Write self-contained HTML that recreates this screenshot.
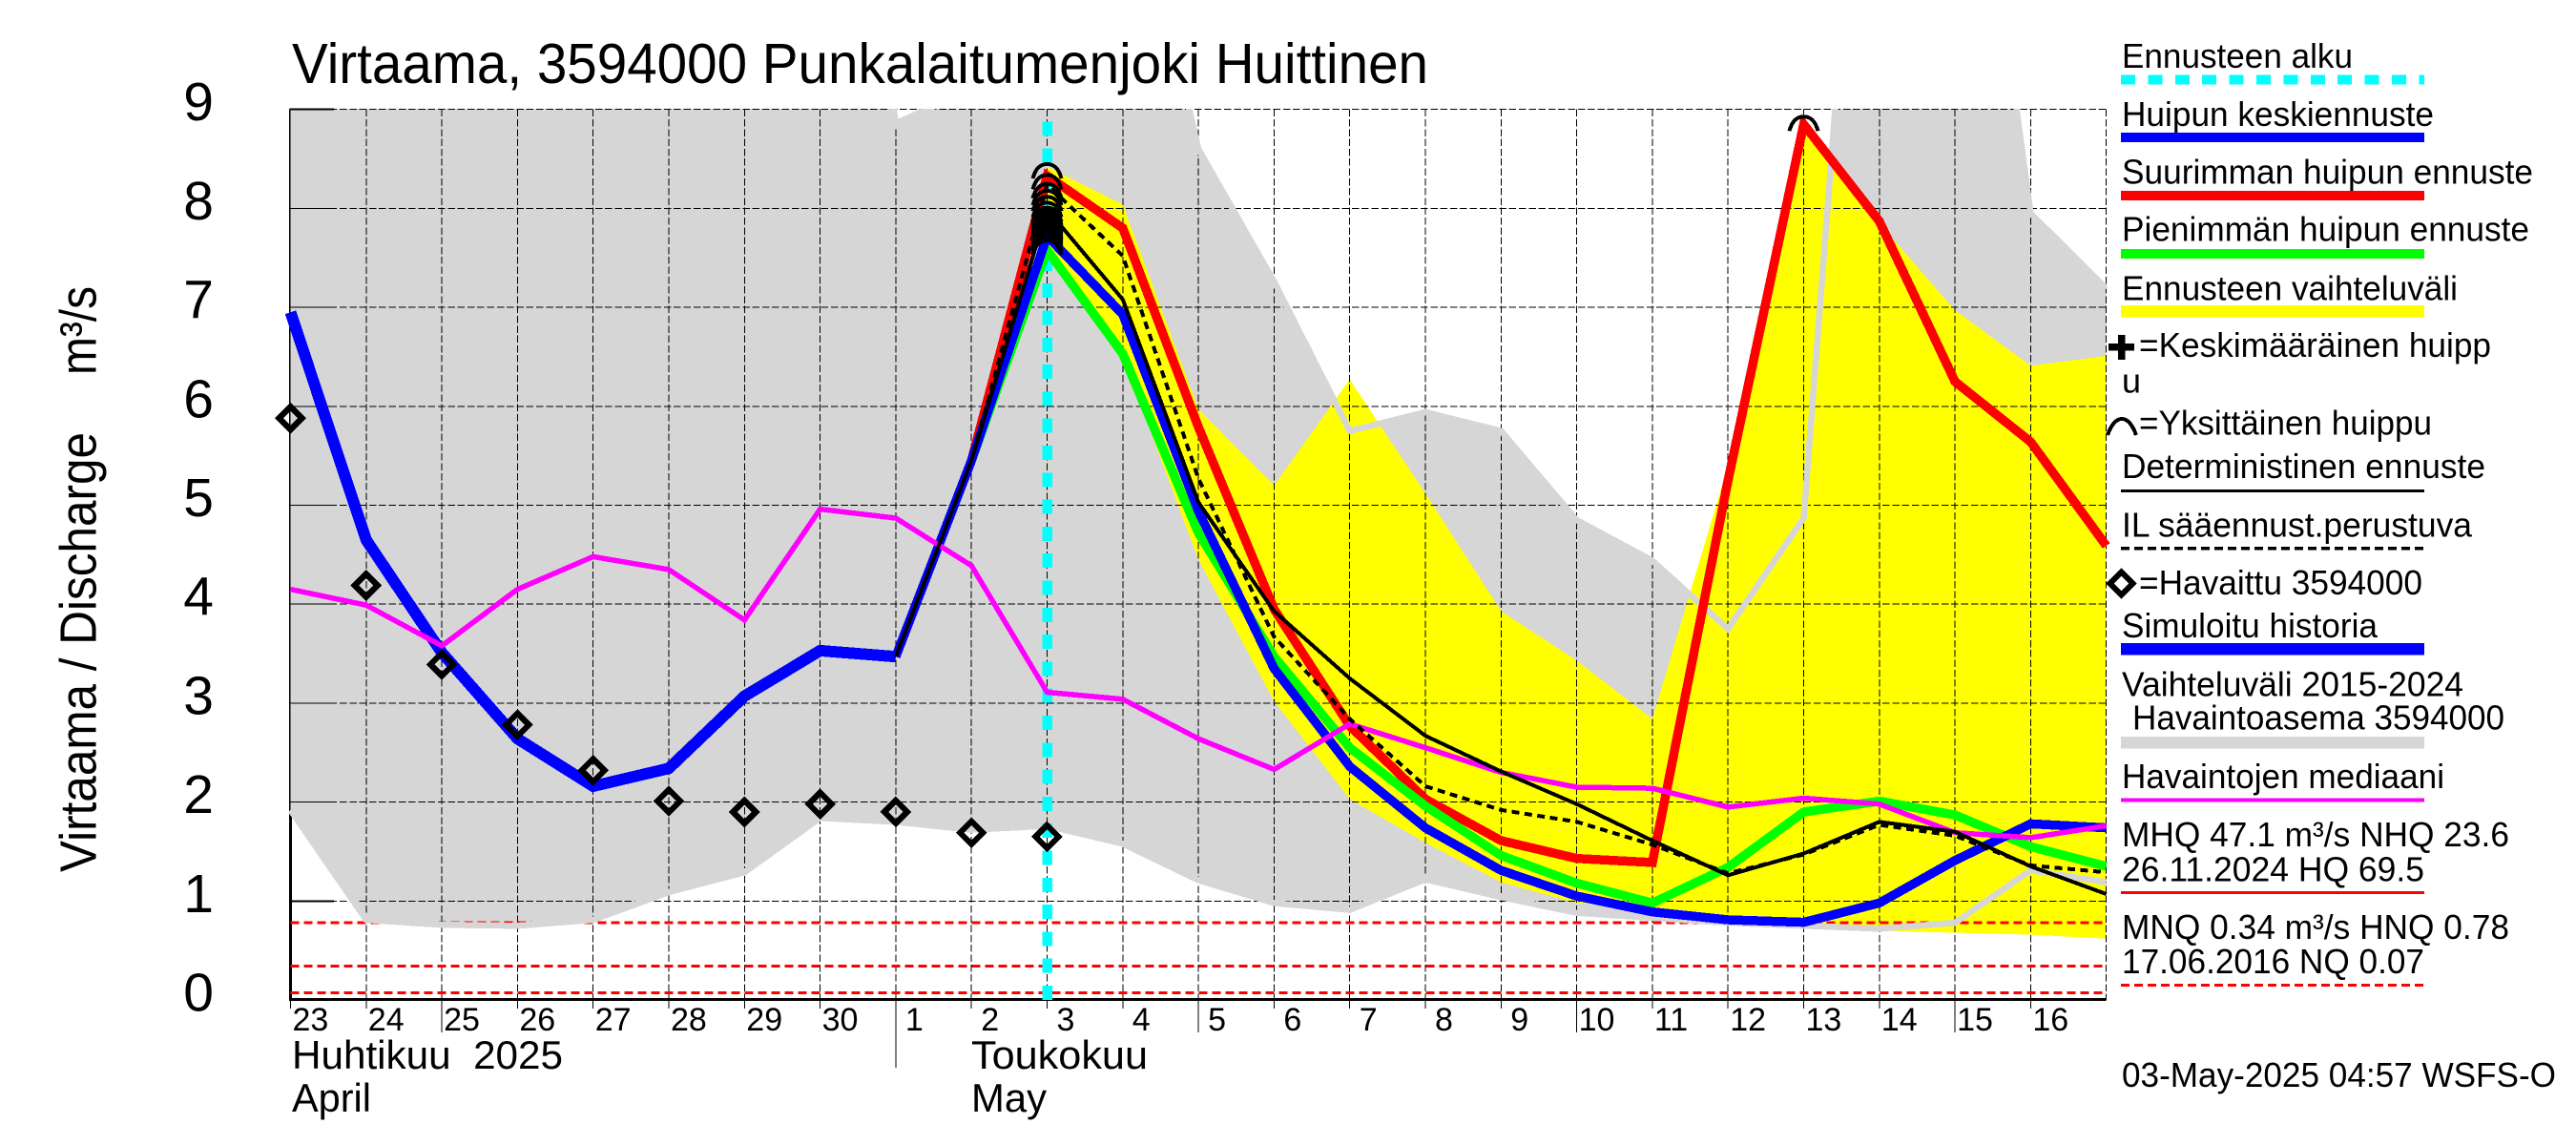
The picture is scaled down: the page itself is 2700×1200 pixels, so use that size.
<!DOCTYPE html>
<html lang="fi">
<head>
<meta charset="utf-8">
<title>Virtaama, 3594000 Punkalaitumenjoki Huittinen</title>
<style>
html,body{margin:0;padding:0;background:#fff;}
svg{display:block;shape-rendering:crispEdges;}
text{font-family:"Liberation Sans",sans-serif;fill:#000;white-space:pre;}
.lg{font-size:36px;}
</style>
</head>
<body>
<svg id="chart" xmlns="http://www.w3.org/2000/svg" width="2700" height="1200" viewBox="0 0 2700 1200">
  <defs>
    <clipPath id="plot-clip"><rect x="303" y="114" width="1905.5" height="934"/></clipPath>
  </defs>
  <rect x="0" y="0" width="2700" height="1200" fill="#fff"/>
  <g id="axis-layer"></g>
  <g id="area-layer" clip-path="url(#plot-clip)"></g>
  <g id="grid-layer"></g>
  <g id="ref-layer"></g>
  <g id="outline-layer" clip-path="url(#plot-clip)"></g>
  <g id="line-layer"></g>
  <g id="marker-layer"></g>
  <g id="label-layer"></g>

  <text x="306" y="87" font-size="59" textLength="1191" lengthAdjust="spacingAndGlyphs">Virtaama, 3594000 Punkalaitumenjoki Huittinen</text>
  <text transform="translate(100.5 914) rotate(-90)" font-size="54" textLength="461" lengthAdjust="spacingAndGlyphs">Virtaama / Discharge</text>
  <text transform="translate(100.5 393) rotate(-90)" font-size="54" textLength="93" lengthAdjust="spacingAndGlyphs">m³/s</text>
  <text x="306" y="1120" font-size="42" textLength="284" lengthAdjust="spacingAndGlyphs">Huhtikuu  2025</text>
  <text x="306" y="1165" font-size="42" textLength="83" lengthAdjust="spacingAndGlyphs">April</text>
  <text x="1018" y="1120" font-size="42" textLength="185" lengthAdjust="spacingAndGlyphs">Toukokuu</text>
  <text x="1018" y="1165" font-size="42" textLength="79" lengthAdjust="spacingAndGlyphs">May</text>

  <g>
    <text class="lg" x="2224" y="71" textLength="242" lengthAdjust="spacingAndGlyphs">Ennusteen alku</text>
    <line x1="2223" y1="83.5" x2="2541" y2="83.5" stroke="#00ffff" stroke-width="10" stroke-dasharray="15 13.4"/>
    <text class="lg" x="2224" y="132" textLength="327" lengthAdjust="spacingAndGlyphs">Huipun keskiennuste</text>
    <rect x="2223" y="139" width="318" height="10" fill="#0000ff"/>
    <text class="lg" x="2224" y="192.5" textLength="431" lengthAdjust="spacingAndGlyphs">Suurimman huipun ennuste</text>
    <rect x="2223" y="200" width="318" height="10" fill="#ff0000"/>
    <text class="lg" x="2224" y="252.5" textLength="427" lengthAdjust="spacingAndGlyphs">Pienimmän huipun ennuste</text>
    <rect x="2223" y="261" width="318" height="10" fill="#00ff00"/>
    <text class="lg" x="2224" y="314.5" textLength="352" lengthAdjust="spacingAndGlyphs">Ennusteen vaihteluväli</text>
    <rect x="2223" y="320" width="318" height="12.5" fill="#ffff00"/>
    <rect x="2210" y="360" width="27" height="7.5" fill="#000"/>
    <rect x="2220" y="351" width="7.5" height="26" fill="#000"/>
    <text class="lg" x="2242" y="374" textLength="369" lengthAdjust="spacingAndGlyphs">=Keskimääräinen huipp</text>
    <text class="lg" x="2224" y="411.5">u</text>
    <path d="M2209 456 C2213 445 2218 439 2224 439 C2230 439 2235 445 2239 456" fill="none" stroke="#000" stroke-width="4"/>
    <text class="lg" x="2242" y="455.5" textLength="307" lengthAdjust="spacingAndGlyphs">=Yksittäinen huippu</text>
    <text class="lg" x="2224" y="501" textLength="381" lengthAdjust="spacingAndGlyphs">Deterministinen ennuste</text>
    <rect x="2223" y="513" width="318" height="3" fill="#000"/>
    <text class="lg" x="2224" y="562.5" textLength="367" lengthAdjust="spacingAndGlyphs">IL sääennust.perustuva</text>
    <line x1="2223" y1="574.5" x2="2541" y2="574.5" stroke="#000" stroke-width="3.5" stroke-dasharray="9 5"/>
    <polygon points="2223.5,599.5 2235.5,611.5 2223.5,623.5 2211.5,611.5" fill="none" stroke="#000" stroke-width="6.2"/>
    <text class="lg" x="2242" y="623" textLength="297" lengthAdjust="spacingAndGlyphs">=Havaittu 3594000</text>
    <text class="lg" x="2224" y="668" textLength="268" lengthAdjust="spacingAndGlyphs">Simuloitu historia</text>
    <rect x="2223" y="674" width="318" height="12.5" fill="#0000ff"/>
    <text class="lg" x="2224" y="729.5" textLength="358" lengthAdjust="spacingAndGlyphs">Vaihteluväli 2015-2024</text>
    <text class="lg" x="2235" y="764.5" textLength="390" lengthAdjust="spacingAndGlyphs">Havaintoasema 3594000</text>
    <rect x="2223" y="772" width="318" height="12.5" fill="#d6d6d6"/>
    <text class="lg" x="2224" y="826" textLength="338" lengthAdjust="spacingAndGlyphs">Havaintojen mediaani</text>
    <rect x="2223" y="836.5" width="318" height="4" fill="#ff00ff"/>
    <text class="lg" x="2224" y="887" textLength="406" lengthAdjust="spacingAndGlyphs">MHQ 47.1 m³/s NHQ 23.6</text>
    <text class="lg" x="2224" y="923.5" textLength="317" lengthAdjust="spacingAndGlyphs">26.11.2024 HQ 69.5</text>
    <rect x="2223" y="934" width="318" height="3" fill="#ff0000"/>
    <text class="lg" x="2224" y="984" textLength="406" lengthAdjust="spacingAndGlyphs">MNQ 0.34 m³/s HNQ 0.78</text>
    <text class="lg" x="2224" y="1020" textLength="317" lengthAdjust="spacingAndGlyphs">17.06.2016 NQ 0.07</text>
    <line x1="2223" y1="1032.5" x2="2541" y2="1032.5" stroke="#ff0000" stroke-width="3" stroke-dasharray="9 5"/>
  </g>
  <text class="lg" x="2224" y="1139" textLength="455" lengthAdjust="spacingAndGlyphs">03-May-2025 04:57 WSFS-O</text>
</svg>
<script>
// ---- chart data ----
const dayLabels = ['23','24','25','26','27','28','29','30','1','2','3','4','5','6','7','8','9','10','11','12','13','14','15','16'];
const yTickValues = [0,1,2,3,4,5,6,7,8,9];
const longTickDays = [2,12,17,22];
const monthStartDay = 8;
const forecastStartDay = 10;
const referenceLevels = [0.78,0.34,0.07];

const observed = [5.88,4.19,3.39,2.78,2.32,2.01,1.90,1.98,1.90,1.69,1.65];
const simulatedHistory = [6.95,4.65,3.51,2.64,2.16,2.34,3.07,3.53,3.47];
const median = [4.15,3.99,3.58,4.15,4.48,4.35,3.84,4.96,4.87,4.39,3.11,3.04,2.64,2.33,2.79,2.55,2.30,2.15,2.14,1.95,2.04,1.98,1.69,1.64,1.76];

// forecast series start at day index 8
const forecastFirstDay = 8;
const meanPeak = [3.47,5.45,7.72,6.93,4.94,3.35,2.36,1.74,1.31,1.05,0.89,0.81,0.785,0.98,1.41,1.78,1.74];
const maxPeak = [3.47,5.45,8.33,7.80,5.79,3.95,2.77,2.03,1.61,1.43,1.39,5.25,8.85,7.87,6.25,5.64,4.59];
const minPeak = [3.47,5.45,7.58,6.53,4.72,3.47,2.55,1.96,1.46,1.18,0.98,1.34,1.90,2.01,1.87,1.55,1.35];
const deterministic = [3.47,5.45,7.99,7.08,5.03,3.93,3.25,2.67,2.31,1.98,1.61,1.26,1.48,1.80,1.70,1.35,1.07];
const weatherBased = [3.47,5.45,8.24,7.52,5.27,3.67,2.84,2.16,1.92,1.80,1.57,1.28,1.47,1.77,1.66,1.36,1.29];

// forecast range starts at the forecast start day
const rangeTop = [8.42,8.04,5.97,5.20,6.27,5.12,3.93,3.43,2.84,5.40,8.85,7.85,6.97,6.41,6.51];
const rangeBottom = [7.55,6.50,4.45,3.02,2.03,1.59,1.19,0.98,0.94,0.78,0.72,0.70,0.68,0.66,0.62];

// history range over all days (top values above 9 run off the plot)
const historyTop = [12,12,12,12,12,12,12,13.7,8.86,9.2,11,11.9,8.6,7.26,5.75,5.94,5.75,4.85,4.44,3.75,4.87,14.8,13.6,7.95,7.19];
const historyBottom = [1.92,0.81,0.76,0.75,0.81,1.09,1.29,1.84,1.80,1.72,1.76,1.58,1.21,0.98,0.91,1.22,1.04,0.88,0.83,0.78,0.75,0.72,0.78,1.31,1.19];

// individual peaks: all on the forecast start day, plus one on day 20
const singlePeaksAtStart = [8.37,8.26,8.17,8.10,8.04,7.98,7.93,7.88,7.84,7.80,7.76,7.72,7.68,7.64,7.60,7.90,7.86,7.82,7.78,7.74,7.70];
const singlePeaksLate = [8.85];
const singlePeakLateDay = 20;

// ---- axis functions ----
const X0 = 304.5, X_STEP = 79.3, Y0 = 1048, Y_STEP = 103.7;
function xAt(day){ return X0 + X_STEP * day; }
function yAt(v){ return Y0 - Y_STEP * v; }
const plotRight = xAt(24);
const plotTop = yAt(9);

const NS = 'http://www.w3.org/2000/svg';
function mk(tag, attrs, parent){
  const el = document.createElementNS(NS, tag);
  for (const k in attrs) el.setAttribute(k, attrs[k]);
  parent.appendChild(el);
  return el;
}
function pointsOf(values, firstDay){
  return values.map((v,i)=>xAt(firstDay+i).toFixed(1)+','+yAt(v).toFixed(1)).join(' ');
}
function bandPoints(top, bottom, firstDay){
  const a = top.map((v,i)=>xAt(firstDay+i).toFixed(1)+','+yAt(v).toFixed(1));
  const b = bottom.map((v,i)=>xAt(firstDay+i).toFixed(1)+','+yAt(v).toFixed(1)).reverse();
  return a.concat(b).join(' ');
}
function drawLine(values, firstDay, color, width, dash, name){
  const attrs = {points:pointsOf(values,firstDay),fill:'none',stroke:color,'stroke-width':width,'stroke-linejoin':'miter','stroke-miterlimit':3};
  if (dash) attrs['stroke-dasharray'] = dash;
  const el = mk('polyline',attrs,lineLayer);
  
  
  return el;
}

const axisLayer = document.getElementById('axis-layer');
const areaLayer = document.getElementById('area-layer');
const gridLayer = document.getElementById('grid-layer');
const refLayer = document.getElementById('ref-layer');
const outlineLayer = document.getElementById('outline-layer');
const lineLayer = document.getElementById('line-layer');
const markerLayer = document.getElementById('marker-layer');
const labelLayer = document.getElementById('label-layer');

// axes
const yAxisLine = mk('rect',{x:303,y:plotTop,width:3,height:Y0-plotTop,fill:'#000'},axisLayer);



// areas
const historyBand = mk('polygon',{points:bandPoints(historyTop,historyBottom,0),fill:'#d6d6d6'},areaLayer);


const forecastBand = mk('polygon',{points:bandPoints(rangeTop,rangeBottom,forecastStartDay),fill:'#ffff00'},areaLayer);



// grid + ticks
yTickValues.forEach(v=>{
  if (v>0){
    const g = mk('line',{x1:X0,y1:yAt(v),x2:plotRight,y2:yAt(v),stroke:'#000','stroke-width':1,'stroke-dasharray':'7.5 2.8'},gridLayer);
    
    
    const t = mk('line',{x1:X0-1,y1:yAt(v),x2:350,y2:yAt(v),stroke:'#000','stroke-width':(v===1||v===9)?2:1},gridLayer);
    
    
  }
  const lab = mk('text',{x:224,y:yAt(v)+11.5,'text-anchor':'end','font-size':57},labelLayer);
  lab.textContent = String(v);
  
  
});
for (let d=0; d<=24; d++){
  if (d>0){
    const g = mk('line',{x1:xAt(d),y1:plotTop,x2:xAt(d),y2:1048,stroke:'#000','stroke-width':1,'stroke-dasharray':'7.5 2.8'},gridLayer);
    
    
  }
  if (d<24){
    let end = 1057;
    if (longTickDays.includes(d)) end = 1082;
    if (d===monthStartDay) end = 1119;
    const t = mk('line',{x1:xAt(d),y1:1048,x2:xAt(d),y2:end,stroke:'#000','stroke-width':1},gridLayer);
    
    
    const lab = mk('text',{x:xAt(d)+(dayLabels[d].length===1?10:2),y:1080,'font-size':34},labelLayer);
    lab.textContent = dayLabels[d];
    
    
  }
}
const xAxisLine = mk('rect',{x:303,y:1046,width:plotRight-303,height:3,fill:'#000'},gridLayer);



// reference levels
referenceLevels.forEach(v=>{
  const r = mk('line',{x1:X0,y1:yAt(v),x2:plotRight,y2:yAt(v),stroke:'#ff0000','stroke-width':3,'stroke-dasharray':'9 5'},refLayer);
  
  
});

// outline of the history range
const historyTopLine = mk('polyline',{points:pointsOf(historyTop,0),fill:'none',stroke:'#d6d6d6','stroke-width':6.5},outlineLayer);


const historyBottomLine = mk('polyline',{points:pointsOf(historyBottom,0),fill:'none',stroke:'#d6d6d6','stroke-width':6.5},outlineLayer);



// forecast start
const startLine = mk('line',{x1:xAt(forecastStartDay),y1:1048,x2:xAt(forecastStartDay),y2:plotTop,stroke:'#00ffff','stroke-width':10.5,'stroke-dasharray':'15 13.3'},lineLayer);



// series
drawLine(simulatedHistory,0,'#0000ff',12,null,'simulated-history-line');
drawLine(maxPeak,forecastFirstDay,'#ff0000',9.5,null,'max-peak-forecast-line');
drawLine(minPeak,forecastFirstDay,'#00ff00',9.5,null,'min-peak-forecast-line');
drawLine(meanPeak,forecastFirstDay,'#0000ff',9.5,null,'mean-peak-forecast-line');
drawLine(median,0,'#ff00ff',5.5,null,'observed-median-line');
drawLine(deterministic,forecastFirstDay,'#000000',4,null,'deterministic-forecast-line');
drawLine(weatherBased,forecastFirstDay,'#000000',4,'8 5.5','weather-forecast-line');

// single-peak arches
function drawArch(day, v){
  const x = xAt(day), y = yAt(v)-8;
  const d = 'M'+(x-15)+' '+(y+15)+' C'+(x-12)+' '+(y+4)+' '+(x-7)+' '+y+' '+x+' '+y+' C'+(x+7)+' '+y+' '+(x+12)+' '+(y+4)+' '+(x+15)+' '+(y+15);
  const el = mk('path',{d:d,fill:'none',stroke:'#000','stroke-width':4},markerLayer);
  
  
}
singlePeaksAtStart.forEach(v=>drawArch(forecastStartDay,v));
singlePeaksLate.forEach(v=>drawArch(singlePeakLateDay,v));

// observed diamonds
observed.forEach((v,i)=>{
  const x = xAt(i), y = yAt(v), h = 12;
  const pts = x+','+(y-h)+' '+(x+h)+','+y+' '+x+','+(y+h)+' '+(x-h)+','+y;
  const el = mk('polygon',{points:pts,fill:'none',stroke:'#000','stroke-width':6.2},markerLayer);
  
  
});
</script>
</body>
</html>
